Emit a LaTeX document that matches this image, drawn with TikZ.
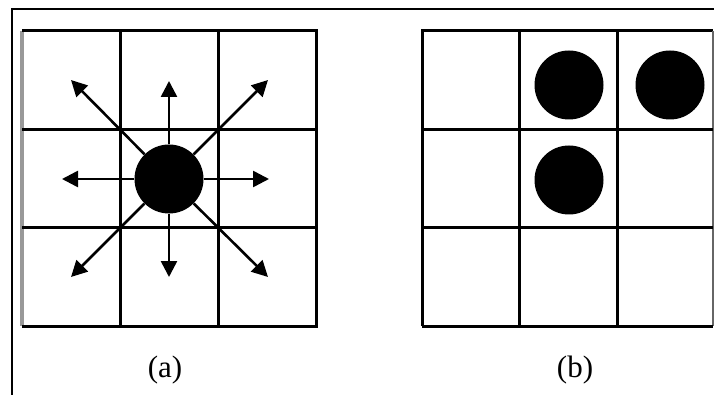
\documentclass[tikz,border=0pt]{standalone}
\usepackage{fontspec}
\setmainfont{Liberation Serif}
\usetikzlibrary{arrows.meta}
\tikzset{
  cellline/.style={black, line width=3pt},
  dot/.style={circle, fill=black, inner sep=0pt, minimum size=69pt},
  ray/.style={black, line width=2.6pt, -{Triangle[length=16pt,width=16pt]}},
  caption/.style={font=\fontsize{31}{36}\selectfont}
}

\begin{document}
\begin{tikzpicture}[x=1pt,y=-1pt]
\useasboundingbox (0,0) rectangle (714,395);
\draw[line width=2.6pt] (12,395) -- (12,9) -- (714,9);
% grid (a)
\draw[black!40, line width=3.5pt] (22,31) -- (22,326);
\draw[cellline] (22,31) -- (316,31) -- (316,326) -- (22,326);
\foreach \x in {120,218} \draw[cellline] (\x,31) -- (\x,326);
\foreach \y in {130,228} \draw[cellline] (22,\y) -- (316,\y);
\node[dot] (src) at (169,179) {};
\coordinate (n) at (169,81);
\coordinate (s) at (169,277);
\coordinate (w) at (62,179);
\coordinate (e) at (269,179);
\coordinate (nw) at (71,80);
\coordinate (ne) at (268,80);
\coordinate (sw) at (71,277);
\coordinate (se) at (268,277);
\foreach \t in {n,s,w,e,nw,ne,sw,se} \draw[ray] (src) -- (\t);
\node[caption] (capa) at (165,370) {(a)};
% grid (b)
\draw[cellline] (422,326) -- (422,31) -- (713,31);
\draw[black!60, line width=2pt] (713,31) -- (713,326);
\draw[cellline] (422,326) -- (713,326);
\foreach \x in {519,617} \draw[cellline] (\x,31) -- (\x,326);
\foreach \y in {130,228} \draw[cellline] (422,\y) -- (713,\y);
\node[dot] (b1) at (569,85) {};
\node[dot] (b2) at (670,85) {};
\node[dot] (b3) at (569,180) {};
\node[caption] (capb) at (575,370) {(b)};
\end{tikzpicture}
\end{document}
